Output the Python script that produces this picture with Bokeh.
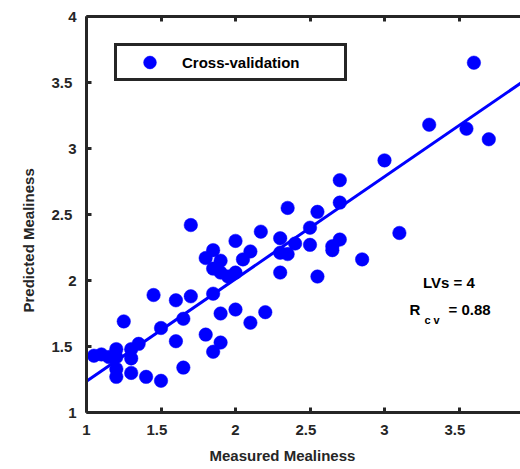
from bokeh.plotting import figure
from bokeh.models import Range1d, FixedTicker, LinearAxis, Label, Legend, LegendItem, ColumnDataSource, Title
from bokeh.embed import file_html
from bokeh.resources import INLINE

# ---- data ----
measured = [3.60, 3.30, 3.55, 3.70, 3.00, 3.10, 2.85, 2.70, 2.70, 2.35,
            2.55, 2.50, 2.17, 2.30, 2.40, 2.50, 2.70, 2.65, 2.65, 2.30,
            2.35, 2.30, 2.55, 2.20, 1.70, 2.00, 1.85, 1.80, 1.90, 2.10,
            2.05, 1.85, 1.90, 2.00, 1.95, 1.45, 1.60, 1.70, 1.85, 1.90,
            2.00, 2.10, 1.65, 1.25, 1.50, 1.60, 1.80, 1.90, 1.85, 1.65,
            1.50, 1.40, 1.30, 1.20, 1.20, 1.05, 1.10, 1.15, 1.20, 1.20,
            1.30, 1.30, 1.35]
predicted = [3.65, 3.18, 3.15, 3.07, 2.91, 2.36, 2.16, 2.76, 2.59, 2.55,
             2.52, 2.40, 2.37, 2.32, 2.28, 2.27, 2.31, 2.26, 2.23, 2.21,
             2.20, 2.06, 2.03, 1.76, 2.42, 2.30, 2.23, 2.17, 2.15, 2.22,
             2.16, 2.09, 2.06, 2.06, 2.03, 1.89, 1.85, 1.88, 1.90, 1.75,
             1.78, 1.68, 1.71, 1.69, 1.64, 1.54, 1.59, 1.53, 1.46, 1.34,
             1.24, 1.27, 1.30, 1.27, 1.33, 1.43, 1.44, 1.42, 1.48, 1.42,
             1.48, 1.41, 1.52]
fit_intercept = 0.462
fit_slope = 0.775
fit_x = [1.0, 4.0]
fit_y = [fit_intercept + fit_slope * v for v in fit_x]

x_ticks = [1, 1.5, 2, 2.5, 3, 3.5, 4]
y_ticks = [1, 1.5, 2, 2.5, 3, 3.5, 4]
x_tick_labels = ["1", "1.5", "2", "2.5", "3", "3.5", "4"]
y_tick_labels = ["1", "1.5", "2", "2.5", "3", "3.5", "4"]

legend_label = "Cross-validation"
lv_text = "LVs = 4"
r_text = "R"
r_sub = "c v"
r_value = "= 0.88"
x_title = "Measured Mealiness"
y_title = "Predicted Mealiness"

FONT = "Liberation Sans"
AX = "#262626"

p = figure(width=520, height=469, output_backend="svg", toolbar_location=None,
           x_range=Range1d(1, 1 + 434 / 149), y_range=Range1d(1, 4),
           min_border_left=86, min_border_right=0, min_border_top=16, min_border_bottom=57,
           x_axis_location=None, y_axis_location=None)
p.outline_line_color = None
p.xgrid.visible = False
p.ygrid.visible = False
p.background_fill_color = "white"
p.border_fill_color = "white"


def style_axis(ax, ticks, overrides, show_labels=True):
    ax.ticker = FixedTicker(ticks=ticks)
    ax.major_label_overrides = overrides
    ax.axis_line_color = AX
    ax.axis_line_width = 3
    ax.major_tick_line_color = AX
    ax.major_tick_line_width = 3
    ax.major_tick_in = 5
    ax.major_tick_out = 0
    ax.minor_tick_line_color = None
    ax.major_label_text_font = FONT
    ax.major_label_text_font_style = "bold"
    ax.major_label_text_color = AX
    ax.major_label_text_font_size = "15px" if show_labels else "0px"


bottom = LinearAxis()
style_axis(bottom, x_ticks,
           {t: (lab + "\u00a0\u00a0" if "." in lab else lab) for t, lab in zip(x_ticks, x_tick_labels)})
bottom.major_label_standoff = 8
p.add_layout(bottom, "below")

top = LinearAxis()
style_axis(top, x_ticks, {t: "" for t in x_ticks}, show_labels=False)
top.major_label_standoff = 0
p.add_layout(top, "above")

left = LinearAxis()
style_axis(left, y_ticks,
           {t: (lab + "\u00a0" if "." in lab else lab) for t, lab in zip(y_ticks, y_tick_labels)})
left.major_label_standoff = 10
p.add_layout(left, "left")

# axis titles as side-panel titles (offset like the reference)
xt = Title(text=x_title, align="left", offset=123, standoff=8,
           text_font=FONT, text_font_style="bold", text_font_size="15px", text_color=AX)
p.add_layout(xt, "below")
yt = Title(text=y_title, align="left", offset=100, standoff=24,
           text_font=FONT, text_font_style="bold", text_font_size="15px", text_color=AX)
p.add_layout(yt, "left")

src = ColumnDataSource(dict(x=measured, y=predicted))
pts = p.scatter("x", "y", source=src, size=13.5, marker="circle",
                fill_color="#0000FF", line_color="#0000FF", line_width=0.5)
p.line(fit_x, fit_y, line_color="#0000FF", line_width=3)

legend = Legend(items=[LegendItem(label=legend_label, renderers=[pts])],
                location=(28, 331), padding=0, margin=0, spacing=0,
                glyph_width=65, glyph_height=32, label_height=32, label_width=162,
                label_standoff=0, border_line_width=3, border_line_color=AX,
                border_line_alpha=1.0,
                background_fill_color="white", background_fill_alpha=1,
                label_text_font=FONT, label_text_font_style="bold",
                label_text_font_size="15px", label_text_color="black")
p.add_layout(legend)


def add_label(x, y, text, size="15px", align="left", color="black"):
    p.add_layout(Label(x=x, y=y, text=text, text_font=FONT, text_font_style="bold",
                       text_font_size=size, text_color=color, text_align=align,
                       text_baseline="middle"))


add_label(3.432, 1.987, lv_text, align="center")
add_label(3.168, 1.780, r_text)
add_label(3.268, 1.697, r_sub, size="11px")
add_label(3.430, 1.780, r_value)

open("out.html", "w").write(file_html(p, INLINE))
